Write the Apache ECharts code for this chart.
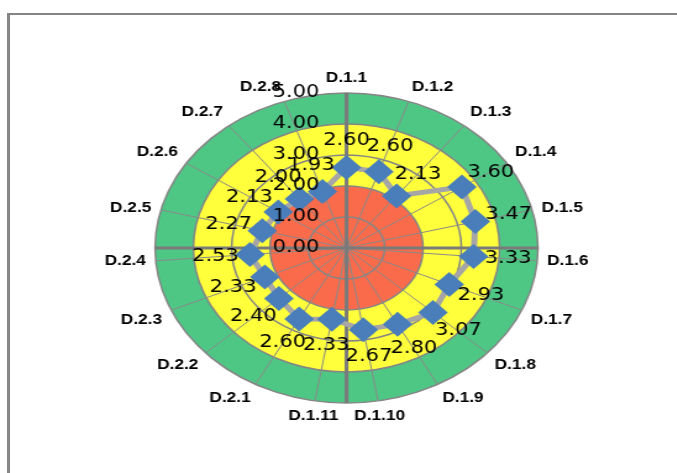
<!DOCTYPE html>
<html>
<head>
<meta charset="utf-8">
<script src="https://cdn.jsdelivr.net/npm/echarts@6/dist/echarts.min.js"></script>
<style>
  html, body { margin: 0; padding: 0; background: #fff; }
  #wrap { position: relative; width: 677px; height: 473px; overflow: hidden; background: #fff; }
  #frame { position: absolute; left: 7px; top: 13px; right: -5px; bottom: -5px;
           border-left: 3px solid #858585; border-top: 2px solid #858585; }
  #chart { position: absolute; left: 0; top: 0; height: 473px; transform-origin: 0 0; }
</style>
</head>
<body>
<div id="wrap">
  <div id="frame"></div>
  <div id="chart"></div>
</div>
<script>
// ---- data ----
const categories = ['D.1.1','D.1.2','D.1.3','D.1.4','D.1.5','D.1.6','D.1.7','D.1.8','D.1.9','D.1.10','D.1.11',
                    'D.2.1','D.2.2','D.2.3','D.2.4','D.2.5','D.2.6','D.2.7','D.2.8'];
const scores = [2.60, 2.60, 2.13, 3.60, 3.47, 3.33, 2.93, 3.07, 2.80, 2.67, 2.33,
                2.60, 2.40, 2.33, 2.53, 2.27, 2.13, 2.00, 1.93];
const radiusTicks = [0, 1, 2, 3, 4, 5];
const bandColors = ['#F96B4B', '#F96B4B', '#FFFF3C', '#FFFF3C', '#4EC785'];

// ---- layout (chart is drawn then stretched horizontally like the reference) ----
const S = 1.235;
const W = 677 / S;
const el = document.getElementById('chart');
el.style.width = W + 'px';
el.style.transform = 'scaleX(' + S + ')';
const center = [346.5 / S, 248];
const R = 155;
const N = categories.length;

const chart = echarts.init(el, null, { renderer: 'canvas', width: W, height: 473 });

const pts = scores.map((v, i) => {
  const th = i / N * 2 * Math.PI;
  return {
    value: [v, i],
    label: { offset: [28 * Math.sin(th), -27 * Math.cos(th)] }
  };
});
pts.push({ value: [scores[0], N], symbol: 'none', label: { show: false } });

const polarBase = { center: center, radius: R };

chart.setOption({
  animation: false,
  polar: [polarBase, polarBase, polarBase],
  angleAxis: [
    { polarIndex: 0, type: 'value', min: 0, max: N, interval: 1, startAngle: 90, clockwise: true,
      axisLine: { show: false }, axisTick: { show: false }, axisLabel: { show: false }, splitLine: { show: false }, z: 0 },
    { polarIndex: 1, type: 'value', min: 0, max: N, interval: 1, startAngle: 90, clockwise: true,
      axisLine: { show: false }, axisTick: { show: false },
      axisLabel: { show: true, margin: 8, color: '#000', fontFamily: 'Liberation Sans, Arial', fontWeight: 'bold', fontSize: 14,
        formatter: v => categories[v] || '' },
      splitLine: { show: true, lineStyle: { color: '#8a8a8a', width: 1 } }, z: 1 },
    { polarIndex: 2, type: 'value', min: 0, max: 4, interval: 1, startAngle: 90, clockwise: true,
      axisLine: { show: false }, axisTick: { show: false }, axisLabel: { show: false },
      splitLine: { show: true, lineStyle: { color: '#7a7a7a', width: 3 } }, z: 2 }
  ],
  radiusAxis: [
    { polarIndex: 0, min: 0, max: 5, interval: 1, axisLine: { show: false }, axisTick: { show: false },
      axisLabel: { show: false }, splitLine: { show: false },
      splitArea: { show: true, areaStyle: { color: bandColors } }, z: 0 },
    { polarIndex: 1, min: 0, max: 5, interval: 1, axisLine: { show: false }, axisTick: { show: false },
      axisLabel: { show: false },
      splitLine: { show: true, lineStyle: { color: '#858585', width: 1.5 } }, z: 1 },
    { polarIndex: 2, min: 0, max: 5, interval: 1, axisLine: { show: false }, axisTick: { show: false },
      axisLabel: { show: true, margin: 22, color: '#000', fontFamily: 'DejaVu Sans', fontSize: 17,
        padding: [8, 0, 0, 0],
        formatter: v => radiusTicks.indexOf(v) >= 0 ? v.toFixed(2) : '' },
      splitLine: { show: false }, z: 4 }
  ],
  series: [{
    type: 'line',
    coordinateSystem: 'polar',
    polarIndex: 1,
    data: pts,
    z: 3,
    lineStyle: { color: '#A6A6A6', width: 5 },
    symbol: 'diamond',
    symbolSize: [24, 25],
    itemStyle: { color: '#4A7EBB' },
    label: { show: true, position: 'inside', color: '#000', fontFamily: 'DejaVu Sans', fontSize: 17,
      formatter: p => p.value[0].toFixed(2) }
  }]
});
</script>
</body>
</html>
